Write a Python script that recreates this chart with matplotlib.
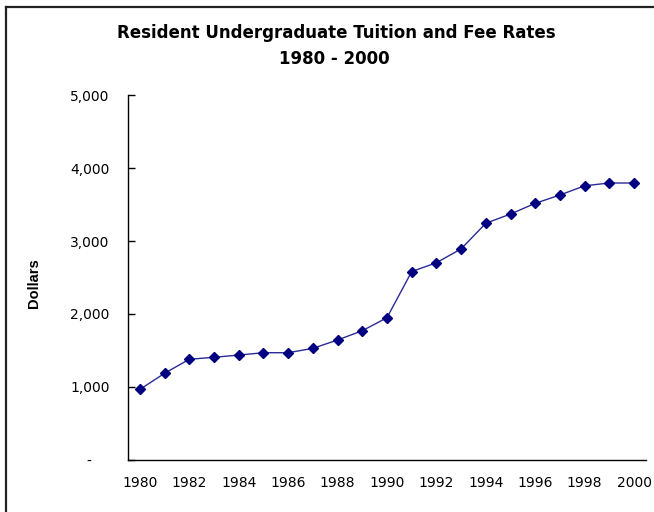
import matplotlib
matplotlib.use("Agg")
import matplotlib.pyplot as plt
from matplotlib.lines import Line2D
from matplotlib.ticker import FuncFormatter

plt.rcParams['font.family'] = ['DejaVu Sans']

years = list(range(1980, 2001))
tuition = [963, 1185, 1377, 1404, 1435, 1467, 1467, 1527, 1642, 1769, 1948,
           2582, 2703, 2893, 3245, 3372, 3519, 3633, 3760, 3798, 3798]
x_ticks = list(range(1980, 2001, 2))
y_ticks = [0, 1000, 2000, 3000, 4000, 5000]

fig = plt.figure(figsize=(6.54, 5.12), dpi=100)
ax = fig.add_axes([0.1951, 0.1025, 0.7933, 0.711])

ax.plot(years, tuition, color='#2a2a96', linewidth=1.0,
        marker='D', markersize=5.5, markerfacecolor='#000080',
        markeredgecolor='#000080')

ax.set_xlim(1979.5, 2000.5)
ax.set_ylim(0, 5000)
ax.set_xticks(x_ticks)
ax.set_xticklabels([str(y) for y in x_ticks])
ax.set_yticks(y_ticks)
ax.yaxis.set_major_formatter(FuncFormatter(lambda v, p: '-    ' if v == 0 else f'{int(v):,}'))

for s in ['top', 'right']:
    ax.spines[s].set_visible(False)
for s in ['left', 'bottom']:
    ax.spines[s].set_linewidth(1.0)
    ax.spines[s].set_color('black')

ax.tick_params(axis='x', length=0, pad=12, labelsize=10)
ax.tick_params(axis='y', direction='in', length=5, width=1, pad=13, labelsize=10)

ax.set_ylabel('Dollars', fontsize=10.5, fontweight='bold',
              family=['Liberation Sans Narrow', 'Liberation Sans', 'DejaVu Sans'])
ax.yaxis.set_label_coords(-0.166, 0.484)

fig.text(0.515, 0.9264, 'Resident Undergraduate Tuition and Fee Rates',
         ha='center', va='baseline', fontsize=12, fontweight='bold')
fig.text(0.511, 0.8744, '1980 - 2000', ha='center', va='baseline',
         fontsize=12, fontweight='bold')

# figure border (top and left visible)
fig.add_artist(Line2D([0.0095, 1.0], [0.987, 0.987], transform=fig.transFigure,
                      color='#222222', linewidth=1.6))
fig.add_artist(Line2D([0.0095, 0.0095], [0.0, 0.987], transform=fig.transFigure,
                      color='#222222', linewidth=1.6))

fig.savefig('out.png', dpi=100)
